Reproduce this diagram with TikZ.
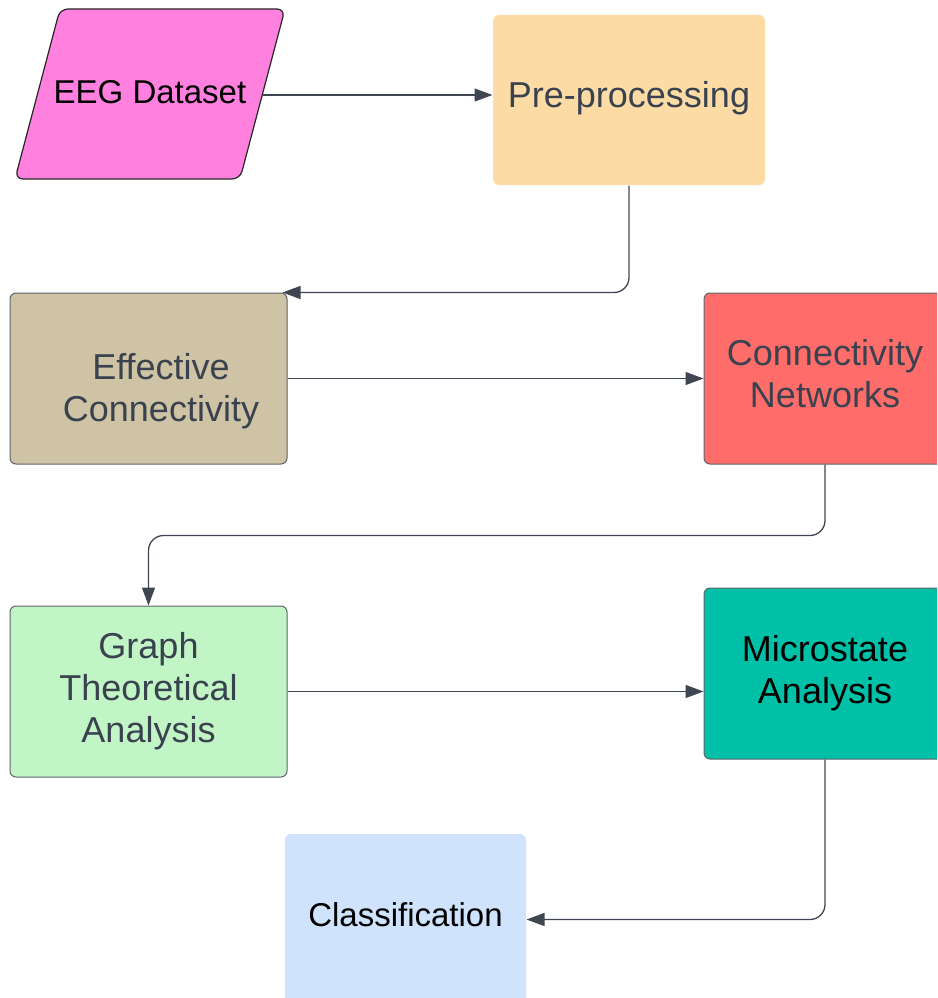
\documentclass[tikz,border=0pt]{standalone}
\usepackage{fontspec}
\setmainfont{Liberation Sans}
\usetikzlibrary{arrows.meta,calc}
\definecolor{pinkfill}{HTML}{FF80DF}
\definecolor{peachfill}{HTML}{FDDBA5}
\definecolor{tanfill}{HTML}{CEC3A4}
\definecolor{redfill}{HTML}{FF6D6B}
\definecolor{greenfill}{HTML}{C2F5C6}
\definecolor{tealfill}{HTML}{00C1A7}
\definecolor{bluefill}{HTML}{CFE3FD}
\definecolor{boxline}{HTML}{5F646B}
\definecolor{arrowc}{HTML}{3F4651}
\definecolor{txtdark}{HTML}{39424E}
\tikzset{
  box/.style={rectangle, rounded corners=6pt, draw=boxline, line width=1pt,
    minimum width=277pt, minimum height=171pt, inner sep=0pt, align=center,
    font=\fontsize{36}{42}\selectfont, text=txtdark},
  plainbox/.style={box, draw=none},
  boxtext/.style={font=\fontsize{36}{42}\selectfont, text=txtdark, align=center},
  flow/.style={draw=arrowc, line width=1.3pt, rounded corners=15pt,
    -{Triangle[length=18pt,width=13pt]}},
}
\begin{document}
\begin{tikzpicture}[x=1pt,y=-1pt]
\clip (0,0) rectangle (937,998);
% EEG Dataset parallelogram
\draw[draw=black!85, line width=1.2pt, rounded corners=8pt, fill=pinkfill]
  (60,9) -- (285,9) -- (240,179) -- (15,179) -- cycle;
\node[rectangle, inner sep=0pt, minimum width=225pt, minimum height=30pt,
  font=\fontsize{33}{40}\selectfont, text=black] (eeg) at (150,92) {EEG Dataset};
\node[plainbox, fill=peachfill, minimum width=272pt, minimum height=170pt,
  label={[boxtext, yshift=2pt]center:Pre-processing}] (pre) at (629,100) {};
\node[box, fill=tanfill,
  label={[boxtext, xshift=12.5pt, yshift=-12.5pt]center:Effective\\Connectivity}] (eff) at (148.5,378.5) {};
\node[box, fill=redfill, minimum width=242pt,
  label={[boxtext, yshift=5pt]center:Connectivity\\Networks}] (cn) at (825,378.5) {};
\node[box, fill=greenfill] (graph) at (148.5,691.5) {Graph\\Theoretical\\Analysis};
\node[box, fill=tealfill, minimum width=242pt, text=black] (micro) at (825,673.5) {Microstate\\Analysis};
\node[plainbox, fill=bluefill, minimum width=241pt,
  label={[font=\fontsize{33}{40}\selectfont, text=black, yshift=4.5pt]center:Classification}] (class) at (405.5,919.5) {};
\draw[flow] ([yshift=-3pt]eeg.east) -- ([yshift=-3pt]eeg.east -| pre.west);
\draw[flow] (pre.south) |- ([xshift=-5pt]eff.north east);
\draw[flow] (eff.east) -- (eff.east -| cn.west);
\draw[flow] (cn.south) -- ++(0,71) -| (graph.north);
\draw[flow] (graph.east) -- (graph.east -| micro.west);
\draw[flow] (micro.south) |- (class.east);
\end{tikzpicture}
\end{document}
